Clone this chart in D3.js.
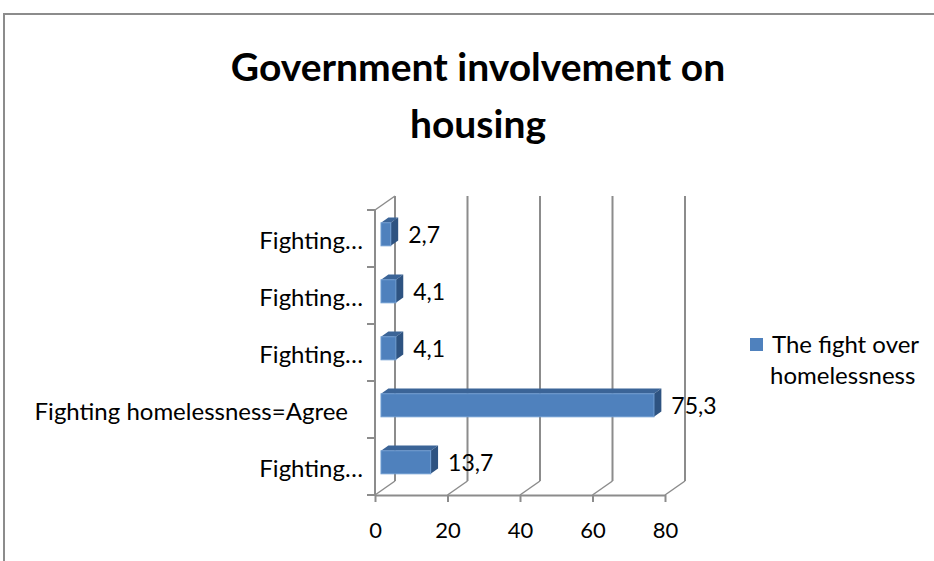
<!DOCTYPE html>
<html>
<head>
<meta charset="utf-8">
<script src="https://cdn.jsdelivr.net/npm/d3@7"></script>
<style>
  body { margin: 0; background: #fff; }
  text { font-family: Lato, "Noto Sans", sans-serif; fill: #000; }
</style>
</head>
<body>
<div id="chart"></div>
<script>
// data, bottom category first (as Excel plots it)
var categories = ["Fighting…", "Fighting homelessness=Agree", "Fighting…", "Fighting…", "Fighting…"];
var values = [13.7, 75.3, 4.1, 4.1, 2.7];
var valueLabels = ["13,7", "75,3", "4,1", "4,1", "2,7"];
var xTicks = [0, 20, 40, 60, 80];
var seriesName = ["The fight over", "homelessness"];
var titleLines = ["Government involvement on", "housing"];

var w = 934, h = 561;
var depthX = 20, depthY = -14;   // 3d depth of the plot
var grey = "#8c8c8c";

var svg = d3.select("#chart").append("svg")
  .attr("width", w).attr("height", h);

// frame of the chart area
svg.append("path")
  .attr("d", "M4,561 L4,14 L934,14")
  .attr("fill", "none").attr("stroke", grey).attr("stroke-width", 2);

// title
svg.selectAll(".title").data(titleLines).enter().append("text")
  .attr("class", "title")
  .attr("x", 478)
  .attr("y", function(d, i) { return 81 + i * 57; })
  .attr("text-anchor", "middle")
  .style("font-size", "39px").style("font-weight", "bold")
  .text(function(d) { return d; });

var xScale = d3.scaleLinear().domain([0, 80]).range([375, 665]);
var yScale = d3.scaleBand()
  .domain(d3.range(categories.length).reverse())
  .range([210, 495]);

var plotTop = yScale.range()[0], plotBottom = yScale.range()[1];

// back wall gridlines
svg.selectAll(".grid").data(xTicks).enter().append("line")
  .attr("x1", function(d) { return xScale(d) + depthX; })
  .attr("x2", function(d) { return xScale(d) + depthX; })
  .attr("y1", plotTop + depthY)
  .attr("y2", plotBottom + depthY)
  .attr("stroke", grey).attr("stroke-width", 2);

// floor diagonals
svg.selectAll(".floor").data(xTicks).enter().append("line")
  .attr("x1", function(d) { return xScale(d); })
  .attr("x2", function(d) { return xScale(d) + depthX; })
  .attr("y1", plotBottom)
  .attr("y2", plotBottom + depthY)
  .attr("stroke", grey).attr("stroke-width", 1.5);

// left side wall top edge
svg.append("line")
  .attr("x1", xScale(0)).attr("y1", plotTop)
  .attr("x2", xScale(0) + depthX).attr("y2", plotTop + depthY)
  .attr("stroke", grey).attr("stroke-width", 1.5);

// vertical axis line and ticks between bands
svg.append("line")
  .attr("x1", xScale(0)).attr("x2", xScale(0))
  .attr("y1", plotTop).attr("y2", plotBottom)
  .attr("stroke", grey).attr("stroke-width", 2);

var bounds = d3.range(categories.length + 1).map(function(i) { return plotTop + i * yScale.bandwidth(); });
svg.selectAll(".ytick").data(bounds).enter().append("line")
  .attr("x1", xScale(0) - 8).attr("x2", xScale(0))
  .attr("y1", function(d) { return d; }).attr("y2", function(d) { return d; })
  .attr("stroke", grey).attr("stroke-width", 2);

// x axis
var xAxis = svg.append("g")
  .attr("transform", "translate(0," + plotBottom + ")")
  .call(d3.axisBottom(xScale).tickValues(xTicks).tickSize(7).tickPadding(20).tickSizeOuter(0));
xAxis.select(".domain").attr("stroke", grey).attr("stroke-width", 2);
xAxis.selectAll(".tick line").attr("stroke", grey).attr("stroke-width", 2);
xAxis.selectAll(".tick text")
  .style("font-size", "22px").style("font-family", "Lato, sans-serif").attr("fill", "#000");

// category labels
svg.selectAll(".cat").data(categories).enter().append("text")
  .attr("x", function(d) { return d.length > 12 ? 348 : 363; })
  .attr("y", function(d, i) { return yScale(i) + yScale.bandwidth() / 2 + 10; })
  .attr("text-anchor", "end")
  .style("font-size", "24px")
  .text(function(d) { return d; });

// 3d bars
var f0 = 0.3, f1 = 0.67;   // bar depth within the plot depth
var barH = 23;
var bars = svg.selectAll(".bar").data(values).enter().append("g");

function faceY(i) { return yScale(i) + yScale.bandwidth() / 2 - barH / 2 + depthY * f0; }
function faceX0() { return xScale(0) + depthX * f0; }
function faceX1(d) { return xScale(d) + depthX * f0; }
var ddx = depthX * (f1 - f0), ddy = depthY * (f1 - f0);

// top face
bars.append("path")
  .attr("d", function(d, i) {
    var x0 = faceX0(), x1 = faceX1(d), y0 = faceY(i);
    return "M" + x0 + "," + y0 + " L" + (x0 + ddx) + "," + (y0 + ddy) +
      " L" + (x1 + ddx) + "," + (y0 + ddy) + " L" + x1 + "," + y0 + "Z";
  })
  .attr("fill", "#3b6497");

// side face
bars.append("path")
  .attr("d", function(d, i) {
    var x1 = faceX1(d), y0 = faceY(i);
    return "M" + x1 + "," + y0 + " L" + (x1 + ddx) + "," + (y0 + ddy) +
      " L" + (x1 + ddx) + "," + (y0 + ddy + barH) + " L" + x1 + "," + (y0 + barH) + "Z";
  })
  .attr("fill", "#2e5381");

// front face
bars.append("rect")
  .attr("x", faceX0())
  .attr("y", function(d, i) { return faceY(i); })
  .attr("width", function(d) { return faceX1(d) - faceX0(); })
  .attr("height", barH)
  .attr("fill", "#4f81bd")
  .attr("stroke", "#6d9bd1").attr("stroke-width", 1);

// value labels
svg.selectAll(".val").data(values).enter().append("text")
  .attr("x", function(d) { return faceX1(d) + ddx + 10; })
  .attr("y", function(d, i) { return faceY(i) + barH / 2 + 9; })
  .style("font-size", "23px")
  .text(function(d, i) { return valueLabels[i]; });

// legend
svg.append("rect")
  .attr("x", 750).attr("y", 338).attr("width", 13).attr("height", 13)
  .attr("fill", "#4f81bd");
svg.selectAll(".leg").data(seriesName).enter().append("text")
  .attr("x", function(d, i) { return i === 0 ? 772 : 770; })
  .attr("y", function(d, i) { return 353 + i * 31; })
  .style("font-size", "24px")
  .text(function(d) { return d; });
</script>
</body>
</html>
